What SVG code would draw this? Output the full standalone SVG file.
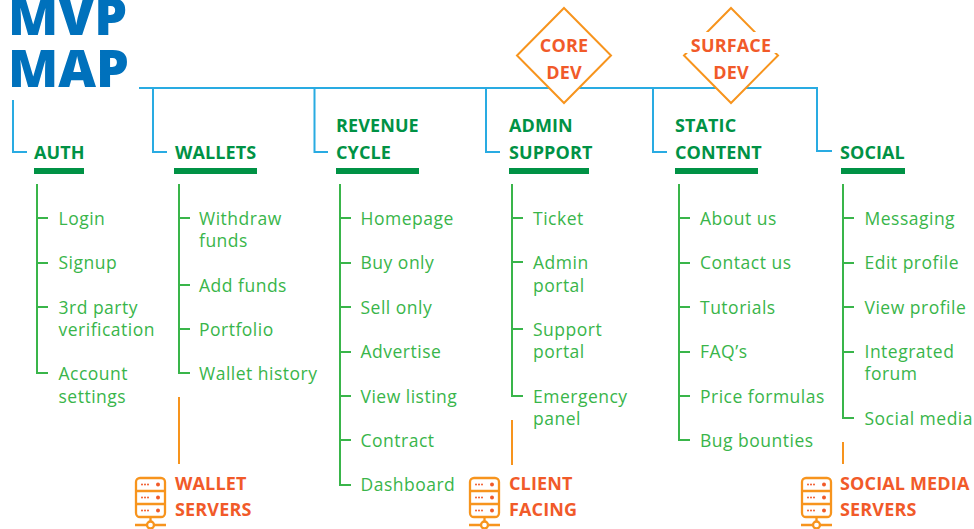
<svg xmlns="http://www.w3.org/2000/svg" width="974" height="529" viewBox="0 0 974 529">
<style>
text{font-family:"Open Sans","Noto Sans",sans-serif}
.title{font-size:52px;font-weight:800;fill:#0071bc}
.head{font-size:18px;font-weight:700;fill:#009245;letter-spacing:.1px;transform:translateY(.4px)}
.item{font-size:17.500px;fill:#39b54a;letter-spacing:.5px;transform:translateY(.5px)}
.org{font-size:18px;font-weight:700;fill:#f15a29;letter-spacing:.15px;transform:translateY(.4px)}
.bar{fill:#009245}
.blue{fill:none;stroke:#29abe2;stroke-width:2}
.tree{fill:none;stroke:#39b54a;stroke-width:2}
.oline{fill:none;stroke:#f7941d;stroke-width:2}
.dia{fill:#fff;stroke:#f7941d;stroke-width:2}
.ic{fill:none;stroke:#f7941d;stroke-width:2.300}
.dot{fill:#f15a29}
</style>
<defs>
<g id="server">
<rect class="ic" x="1" y="1" width="29" height="39" rx="4"/>
<path class="ic" d="M1 14H30M1 27H30M15.500 40V44M0 48H11.500M19.500 48H31"/>
<circle class="ic" cx="15.500" cy="48" r="3.500"/>
<g class="dot"><circle cx="7" cy="7.500" r="1"/><circle cx="10" cy="7.500" r="1"/><circle cx="13" cy="7.500" r="1"/><circle cx="23" cy="7.500" r="2"/>
<circle cx="7" cy="20.500" r="1"/><circle cx="10" cy="20.500" r="1"/><circle cx="13" cy="20.500" r="1"/><circle cx="23" cy="20.500" r="2"/>
<circle cx="7" cy="33.500" r="1"/><circle cx="10" cy="33.500" r="1"/><circle cx="13" cy="33.500" r="1"/><circle cx="23" cy="33.500" r="2"/></g>
</g>
</defs>
<g id="title"><text class="title" x="8" y="35">MVP</text><text class="title" x="8" y="87">MAP</text></g>
<g id="connectors">
<path class="blue" d="M139 88H817V151H832M153 88V152H167M314.500 88V152H328M486 88V152H500M653 88V152H667M13 100V152H27"/>
<path class="tree" d="M37 184V373H48M37 218H48M37 263H48M37 307H48"/>
<path class="tree" d="M179 184V373H190M179 218H190M179 285H190M179 329H190"/>
<path class="tree" d="M340 184V485H351M340 218H351M340 263H351M340 307H351M340 352H351M340 396H351M340 440H351"/>
<path class="tree" d="M512 184V396H523M512 218H523M512 262H523M512 329H523"/>
<path class="tree" d="M679 184V440H690M679 218H690M679 263H690M679 307H690M679 352H690M679 396H690"/>
<path class="tree" d="M843 184V418H854M843 218H854M843 263H854M843 307H854M843 352H854"/>
<path class="oline" d="M179 397V464M512 420V465M843 442V464"/>
</g>
<g id="core-dev"><path class="dia" d="M564 8L611 55.500L564 103L517 55.500Z"/><text class="org" text-anchor="middle" x="564" y="52">CORE</text><text class="org" text-anchor="middle" x="564" y="79">DEV</text></g>
<g id="surface-dev"><path class="dia" d="M731 8L778 55.500L731 103L684 55.500Z"/><rect x="680" y="32" width="102" height="21" fill="#fff"/><text class="org" text-anchor="middle" x="731" y="52">SURFACE</text><text class="org" text-anchor="middle" x="731" y="79">DEV</text></g>
<g id="auth"><text class="head" x="34" y="159">AUTH</text><rect class="bar" x="34" y="168" width="50" height="6"/>
<text class="item" x="58.500" y="224">Login</text><text class="item" x="58.500" y="268.500">Signup</text><text class="item" x="58.500" y="313">3rd party</text><text class="item" x="58.500" y="335">verification</text><text class="item" x="58.500" y="379.500">Account</text><text class="item" x="58.500" y="402">settings</text></g>
<g id="wallets"><text class="head" x="175" y="159">WALLETS</text><rect class="bar" x="174" y="168" width="83" height="6"/>
<text class="item" x="199" y="224">Withdraw</text><text class="item" x="199" y="246">funds</text><text class="item" x="199" y="291">Add funds</text><text class="item" x="199" y="335">Portfolio</text><text class="item" x="199" y="379.500">Wallet history</text></g>
<g id="revenue"><text class="head" x="336" y="132">REVENUE</text><text class="head" x="336" y="159">CYCLE</text><rect class="bar" x="336" y="168" width="83" height="6"/>
<text class="item" x="360.500" y="224">Homepage</text><text class="item" x="360.500" y="268.500">Buy only</text><text class="item" x="360.500" y="313">Sell only</text><text class="item" x="360.500" y="357.500">Advertise</text><text class="item" x="360.500" y="402">View listing</text><text class="item" x="360.500" y="446">Contract</text><text class="item" x="360.500" y="490.500">Dashboard</text></g>
<g id="admin"><text class="head" x="509" y="132">ADMIN</text><text class="head" x="509" y="159">SUPPORT</text><rect class="bar" x="509" y="168" width="80" height="6"/>
<text class="item" x="533" y="224">Ticket</text><text class="item" x="533" y="268.500">Admin</text><text class="item" x="533" y="291">portal</text><text class="item" x="533" y="335">Support</text><text class="item" x="533" y="357.500">portal</text><text class="item" x="533" y="402">Emergency</text><text class="item" x="533" y="424">panel</text></g>
<g id="static"><text class="head" x="675" y="132">STATIC</text><text class="head" x="675" y="159">CONTENT</text><rect class="bar" x="675" y="168" width="83" height="6"/>
<text class="item" x="700" y="224">About us</text><text class="item" x="700" y="268.500">Contact us</text><text class="item" x="700" y="313">Tutorials</text><text class="item" x="700" y="357.500">FAQ’s</text><text class="item" x="700" y="402">Price formulas</text><text class="item" x="700" y="446">Bug bounties</text></g>
<g id="social"><text class="head" x="840" y="159">SOCIAL</text><rect class="bar" x="841" y="168" width="64" height="6"/>
<text class="item" x="864.500" y="224">Messaging</text><text class="item" x="864.500" y="268.500">Edit profile</text><text class="item" x="864.500" y="313">View profile</text><text class="item" x="864.500" y="357.500">Integrated</text><text class="item" x="864.500" y="379.500">forum</text><text class="item" x="864.500" y="424">Social media</text></g>
<g id="wallet-servers"><use href="#server" x="135" y="477"/><text class="org" x="175" y="490">WALLET</text><text class="org" x="175" y="516">SERVERS</text></g>
<g id="client-facing"><use href="#server" x="469" y="477"/><text class="org" x="509" y="490">CLIENT</text><text class="org" x="509" y="516">FACING</text></g>
<g id="social-servers"><use href="#server" x="801" y="477"/><text class="org" x="840" y="490">SOCIAL MEDIA</text><text class="org" x="840" y="516">SERVERS</text></g>
</svg>
